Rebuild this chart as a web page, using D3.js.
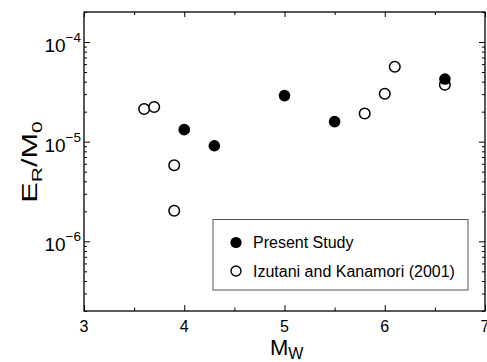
<!DOCTYPE html>
<html>
<head>
<meta charset="utf-8">
<script src="https://cdn.jsdelivr.net/npm/d3@7"></script>
<style>
  body { margin: 0; background: #fff; }
  svg { display: block; font-family: "Liberation Sans", Arial, Helvetica, sans-serif; }
</style>
</head>
<body>
<svg width="487" height="362"></svg>
<script>
// magnitude vs scaled energy, two studies
const presentMw = [4.0, 4.3, 5.0, 5.5, 6.6];
const presentER = [1.32e-5, 9.1e-6, 2.9e-5, 1.59e-5, 4.25e-5];
const izutaniMw = [3.6, 3.7, 3.9, 3.9, 5.8, 6.0, 6.1, 6.6];
const izutaniER = [2.13e-5, 2.23e-5, 5.8e-6, 2.03e-6, 1.92e-5, 3.03e-5, 5.65e-5, 3.73e-5];
const xTicks = [3, 4, 5, 6, 7];
const xMinor = [3.5, 4.5, 5.5, 6.5];
const yTicks = [1e-6, 1e-5, 1e-4];
const yExp = ["−6", "−5", "−4"];
const legendLabels = ["Present Study", "Izutani and Kanamori (2001)"];

const svg = d3.select("svg");
const pl = 84, pr = 485, pt = 12, pb = 311;

let x = d3.scaleLinear().domain([3, 7]).range([pl, pr]);
let y = d3.scaleLog().domain([2e-7, 2e-4]).range([pb, pt]);

// minor log ticks 2..9 per decade
let yMinor = [];
[1e-7, 1e-6, 1e-5, 1e-4].forEach(d => {
  for (let k = 2; k <= 9; k++) {
    let v = d * k;
    if (v >= 1.99e-7 && v <= 2.01e-4) yMinor.push(v);
  }
});

// inward ticks, major + minor
function ticks(axisFn, scale, major, minor, tr, maj, mn) {
  [[major, maj], [minor, mn]].forEach(([vals, len]) => {
    let g = svg.append("g").attr("transform", tr)
      .call(axisFn(scale).tickValues(vals).tickSize(-len).tickFormat(""));
    g.select(".domain").remove();
    g.selectAll(".tick line").attr("stroke", "#000").attr("stroke-width", 1);
  });
}

ticks(d3.axisBottom, x, xTicks, xMinor, `translate(0,${pb})`, 6, 3.5);
ticks(d3.axisTop, x, xTicks, xMinor, `translate(0,${pt})`, 5, 3);
ticks(d3.axisLeft, y, yTicks, yMinor, `translate(${pl},0)`, 6, 3);
ticks(d3.axisRight, y, yTicks, yMinor, `translate(${pr},0)`, 6, 3);

// frame
svg.append("rect")
  .attr("x", pl).attr("y", pt)
  .attr("width", pr - pl).attr("height", pb - pt)
  .attr("fill", "none").attr("stroke", "#000").attr("stroke-width", 1.3);

// x tick labels
svg.selectAll(".xlab")
  .data(xTicks)
  .enter().append("text")
  .attr("x", d => x(d))
  .attr("y", 332)
  .attr("text-anchor", "middle")
  .attr("font-size", "16px")
  .text(d => d);

// y tick labels 10^n
yTicks.forEach((d, i) => {
  let t = svg.append("text")
    .attr("x", 81)
    .attr("y", y(d) + 10)
    .attr("text-anchor", "end")
    .attr("font-size", "19px");
  t.append("tspan").text("10");
  t.append("tspan").attr("font-size", "13.5px").attr("dy", -10).text(yExp[i]);
});

// axis titles
let xt = svg.append("text")
  .attr("x", 270).attr("y", 355)
  .attr("font-size", "22px");
xt.append("tspan").text("M");
xt.append("tspan").attr("font-size", "16px").attr("dy", 4).text("W");

let yt = svg.append("text")
  .attr("transform", "translate(36.5,162) rotate(-90) scale(1.4,1)")
  .attr("text-anchor", "middle")
  .attr("font-size", "22px");
yt.append("tspan").text("E");
yt.append("tspan").attr("font-size", "15px").attr("dy", 5).text("R");
yt.append("tspan").attr("dy", -5).text("/M");
yt.append("tspan").attr("font-size", "15px").attr("dy", 5).text("0");

// points
svg.selectAll(".izu")
  .data(izutaniMw)
  .enter().append("circle")
  .attr("cx", d => x(d))
  .attr("cy", (d, i) => y(izutaniER[i]))
  .attr("r", 5.3)
  .attr("fill", "#fff").attr("stroke", "#000").attr("stroke-width", 1.5);

svg.selectAll(".pres")
  .data(presentMw)
  .enter().append("circle")
  .attr("cx", d => x(d))
  .attr("cy", (d, i) => y(presentER[i]))
  .attr("r", 5.8)
  .attr("fill", "#000");

// legend
svg.append("rect")
  .attr("x", 213).attr("y", 219.5)
  .attr("width", 255).attr("height", 70.5)
  .attr("fill", "#fff").attr("stroke", "#555").attr("stroke-width", 1);

legendLabels.forEach((lab, i) => {
  let cy = 242.5 + i * 28.5;
  svg.append("circle")
    .attr("cx", 236).attr("cy", cy)
    .attr("r", i == 0 ? 5.6 : 5)
    .attr("fill", i == 0 ? "#000" : "#fff")
    .attr("stroke", "#000").attr("stroke-width", i == 0 ? 0 : 1.4);
  svg.append("text")
    .attr("x", 253).attr("y", cy + 5.5)
    .attr("font-size", "16px")
    .text(lab);
});
</script>
</body>
</html>
